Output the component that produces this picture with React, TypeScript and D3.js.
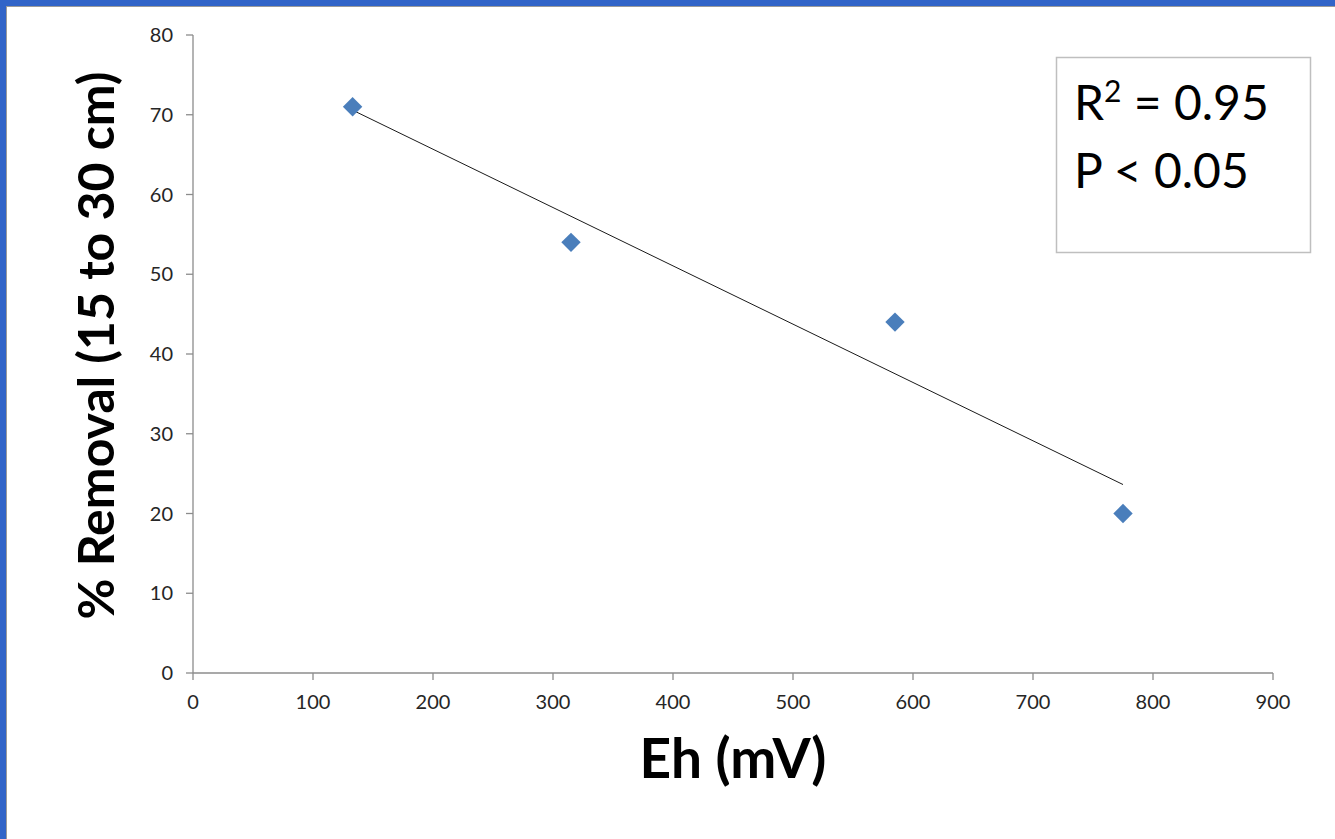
import React from 'react';
import * as d3 from 'd3';

// data
const ehValues = [133, 315, 585, 775];
const removalValues = [71, 54, 44, 20];
const xTicks = [0, 100, 200, 300, 400, 500, 600, 700, 800, 900];
const yTicks = [0, 10, 20, 30, 40, 50, 60, 70, 80];
const statLines = ['= 0.95', 'P < 0.05'];

const W = 1335;
const H = 839;
const margins = { left: 193, right: 62, top: 35, bottom: 166 };
const font = 'Lato, "Open Sans", sans-serif';

const App = () => {
    const xScale = d3.scaleLinear().domain([0, 900]).range([margins.left, W - margins.right]);
    const yScale = d3.scaleLinear().domain([0, 80]).range([H - margins.bottom, margins.top]);

    const points = ehValues.map((x, i) => ({ x, y: removalValues[i] }));

    // least squares trend line over the data range
    const mx = d3.mean(ehValues) as number;
    const my = d3.mean(removalValues) as number;
    const sxy = d3.sum(points, d => (d.x - mx) * (d.y - my));
    const sxx = d3.sum(points, d => (d.x - mx) * (d.x - mx));
    const slope = sxy / sxx;
    const fit = (x: number) => my + slope * (x - mx);
    const [x0, x1] = d3.extent(ehValues) as [number, number];
    const trend = d3.line<number>().x(d => xScale(d)).y(d => yScale(fit(d)))([x0, x1]);

    const diamond = d3.symbol().type(d3.symbolDiamond2).size(240)();
    const axisColor = '#8c8c8c';

    return (
        <svg width={W} height={H} style={{ position: 'absolute', left: 0, top: 0, background: '#fff' }}>
            {/* frame */}
            <rect x={0} y={0} width={W} height={6} fill="#3164c8" />
            <rect x={0} y={0} width={6} height={H} fill="#3164c8" />
            <line x1={6} x2={W} y1={6.5} y2={6.5} stroke="#9a9a9a" />
            <line x1={6.5} x2={6.5} y1={6} y2={H} stroke="#9a9a9a" />

            {/* axes */}
            <g stroke={axisColor} strokeWidth={1.3} fill="none">
                <line x1={xScale(0)} x2={xScale(900)} y1={yScale(0)} y2={yScale(0)} />
                <line x1={xScale(0)} x2={xScale(0)} y1={yScale(0)} y2={yScale(80)} />
                {xTicks.map(t => (
                    <line key={'xt' + t} x1={xScale(t)} x2={xScale(t)} y1={yScale(0)} y2={yScale(0) + 7} />
                ))}
                {yTicks.map(t => (
                    <line key={'yt' + t} x1={xScale(0) - 7} x2={xScale(0)} y1={yScale(t)} y2={yScale(t)} />
                ))}
            </g>
            <g fontFamily={font} fontSize={20} fill="#262626">
                {xTicks.map(t => (
                    <text key={'xl' + t} x={xScale(t)} y={yScale(0) + 36} textAnchor="middle">{t}</text>
                ))}
                {yTicks.map(t => (
                    <text key={'yl' + t} x={xScale(0) - 20} y={yScale(t) + 7} textAnchor="end">{t}</text>
                ))}
            </g>

            {/* trend line */}
            <path d={trend || ''} stroke="#1a1a1a" strokeWidth={1} fill="none" />

            {/* points */}
            {points.map((p, i) => (
                <path key={i} d={diamond || ''} transform={`translate(${xScale(p.x)},${yScale(p.y)})`} fill="#4a7ebb" />
            ))}

            {/* axis titles */}
            <text x={733} y={778} textAnchor="middle" fontFamily={font} fontWeight="bold" fontSize={55} fill="#000">Eh (mV)</text>
            <text transform={`translate(114,${(73 + 618) / 2})rotate(-90)`} textAnchor="middle" fontFamily={font} fontWeight="bold" fontSize={50} fill="#000">% Removal (15 to 30 cm)</text>

            {/* stats box */}
            <rect x={1056.5} y={57.5} width={254} height={195} fill="#fff" stroke="#bfbfbf" strokeWidth={1.5} />
            <g fontFamily={font} fontSize={48} fill="#000">
                <text x={1074} y={120}>R<tspan dy={-18} fontSize={30}>2</tspan><tspan dy={18}> {statLines[0]}</tspan></text>
                <text x={1074} y={188}>{statLines[1]}</text>
            </g>
        </svg>
    );
};

export default App;
